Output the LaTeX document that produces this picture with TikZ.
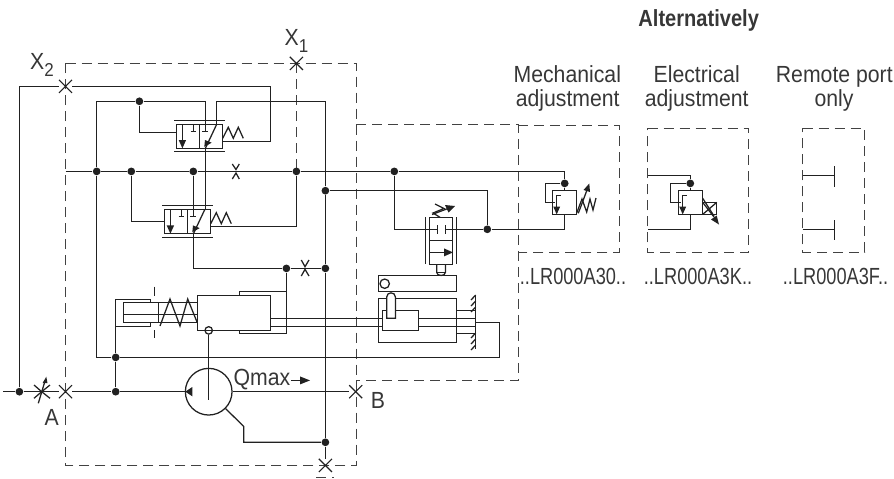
\documentclass[tikz,border=0pt]{standalone}
\usepackage{fontspec}
\setmainfont[FakeStretch=0.91,BoldFeatures={FakeStretch=0.86}]{Liberation Sans}
\newfontfamily\codefont[FakeStretch=0.78]{Liberation Sans}
\usetikzlibrary{shapes.misc}
\definecolor{inkc}{rgb}{0.13,0.13,0.13}
\tikzset{every picture/.style={line width=0.95pt}}
\tikzset{
  junction/.style={circle,fill=inkc,draw=none,inner sep=0pt,minimum size=5.8pt},
  portcross/.style={cross out,draw=inkc,inner sep=0pt,minimum size=9pt,line width=0.8pt},
  boundary/.style={draw=inkc!85,dash pattern=on 7.5pt off 4.5pt,line width=0.85pt},
  tiphead/.style={fill=inkc,draw=none},
  lab/.style={font=\fontsize{17.5}{20}\selectfont,text=inkc!90,inner sep=0pt,anchor=base},
  codelab/.style={lab,font=\fontsize{17.5}{20}\selectfont\codefont}
}
\newcommand{\subdigit}[1]{\raisebox{-5.5pt}{\fontsize{14}{14}\selectfont #1}}

\begin{document}
\begin{tikzpicture}[x=0.75pt,y=0.75pt,yscale=-1,xscale=1,draw=inkc]
\useasboundingbox (0,0) rectangle (894,479);

%Dashed boundaries
\draw [boundary] (65.5,63.4) -- (356.4,63.4) -- (356.4,465.4) -- (65.5,465.4) -- cycle ;
\draw [boundary] (296.4,63.4) -- (296.4,171.4) ;
\draw [boundary] (356.4,124.7) -- (518.3,124.7) -- (518.3,380.4) -- (356.4,380.4) ;
\draw [boundary] (518.3,125.4) -- (619.4,125.4) -- (619.4,252.3) -- (518.3,252.3) ;
\draw [boundary] (647.7,128.3) -- (748.7,128.3) -- (748.7,252.3) -- (647.7,252.3) -- cycle ;
\draw [boundary] (802.7,128.3) -- (864.7,128.3) -- (864.7,252.3) -- (802.7,252.3) -- cycle ;
\draw [boundary] (316.4,477.4) -- (334.4,477.4) ;

%Junctions
\node [junction] (jTopLeft) at (139.4,101.3) {};
\node [junction] (jPilotA) at (96.7,171.4) {};
\node [junction] (jPilotB) at (131.3,171.4) {};
\node [junction] (jPilotC) at (193.3,171.4) {};
\node [junction] (jPilotD) at (296.4,171.4) {};
\node [junction] (jPilotE) at (394.3,171.4) {};
\node [junction] (jCaseA) at (325.4,190.7) {};
\node [junction] (jCaseB) at (325.4,268.4) {};
\node [junction] (jCaseC) at (325.4,442.3) {};
\node [junction] (jStroke) at (286.4,268.4) {};
\node [junction] (jReturn) at (487.3,229.3) {};
\node [junction] (jSupplyA) at (19.4,391.7) {};
\node [junction] (jSupplyB) at (115.7,391.7) {};
\node [junction] (jCyl) at (115.7,357.4) {};
\node [junction] (jMech) at (564.7,183.4) {};
\node [junction] (jElec) at (690.3,183.4) {};

%Ports
\node [portcross] (portXone) at (296.4,63.4) {};
\node [portcross] (portXtwo) at (65.5,86.4) {};
\node [portcross] (portA) at (65.5,391.7) {};
\node [portcross] (portB) at (355.7,391.7) {};
\node [portcross] (portCase) at (325.4,465.4) {};

%Pump
\node [circle,draw=inkc,inner sep=0pt,minimum size=35pt] (pump) at (208.7,391.7) {};
\node [circle,draw=inkc,fill=white,inner sep=0pt,minimum size=5.6pt] (pivot) at (208.7,330.4) {};
\draw (pivot) -- (208.7,400.4) ;
\fill [tiphead] (185.3,391.7) -- (192.3,387) -- (192.3,396.3) -- cycle ;

%Main line and pilot line
\draw (3,391.7) -- (jSupplyA) -- (portA) -- (jSupplyB) -- (pump) ;
\draw (pump) -- (portB) ;
\draw (65.5,171.4) -- (jPilotA) -- (jPilotB) -- (jPilotC) -- (jPilotD) -- (jPilotE) -- (564.7,171.4) -- (jMech) ;
\draw (jSupplyA) -- (19.4,86.4) -- (portXtwo) -- (270.7,86.4) -- (270.7,141.7) -- (222.7,141.7) ;
\draw (jSupplyB) -- (jCyl) ;
\draw (jPilotA) -- (96.7,101.3) -- (jTopLeft) -- (205.4,101.3) -- (205.4,131.4) ;
\draw (jTopLeft) -- (139.4,132.7) -- (176.4,132.7) ;
\draw (jPilotA) -- (96.7,357.4) -- (jCyl) -- (499.4,357.4) -- (499.4,322.4) -- (475.7,322.4) ;
\draw (216.7,124.3) -- (216.7,101.3) -- (325.4,101.3) -- (jCaseA) -- (jCaseB) -- (jCaseC) -- (portCase) ;
\draw (jPilotB) -- (131.3,221.7) -- (164.4,221.7) ;
\draw (jPilotC) -- (193.3,216.4) ;
\draw (jPilotD) -- (296.4,226.7) -- (211.4,226.7) ;
\draw (205.4,148.3) -- (205.4,209.7) ;
\draw (193.3,233.4) -- (193.3,268.4) -- (jStroke) -- (jCaseB) ;
\draw (jStroke) -- (286.4,333.7) -- (239.3,333.7) -- (239.3,330.4) ;
\draw (286.4,291.3) -- (239.3,291.3) -- (239.3,295.4) ;
\draw (jCaseA) -- (487.3,190.7) -- (jReturn) ;
\draw (jPilotE) -- (394.3,229.3) -- (437.7,229.3) ;
\draw (445.4,229.3) -- (jReturn) -- (564.7,229.3) -- (564.7,214.4) ;
\draw (pump.315) -- (243.7,426.4) -- (243.7,442.3) -- (jCaseC) ;

%Top pilot valve
\draw (176.4,124.3) rectangle (222.7,148.3) ;
\draw (199.4,124.3) -- (199.4,148.3) ;
\draw (174.4,120.3) -- (224.7,120.3) ;
\draw (174.4,151.7) -- (224.7,151.7) ;
\draw (182.4,124.3) -- (182.4,141.4) ;
\fill [tiphead] (182.4,148.3) -- (178.7,140) -- (186.1,140) -- cycle ;
\draw (193.3,124.3) -- (193.3,131.4) ;
\draw (190.7,131.4) -- (196.4,131.4) ;
\draw (202.3,131.4) -- (207.7,131.4) ;
\draw (216.7,124.3) -- (205.4,148.3) ;
\fill [tiphead] (204.3,146.9) -- (205,140) -- (211.7,142.7) -- cycle ;
\draw (222.7,138.3) -- (228.3,127.3) -- (233.3,138.3) -- (238.3,127.3) -- (243.3,138.3) ;

%Lower pilot valve
\draw (164.4,209.7) rectangle (210.7,233.7) ;
\draw (187.4,209.7) -- (187.4,233.7) ;
\draw (162.4,205.7) -- (212.7,205.7) ;
\draw (162.4,237.3) -- (212.7,237.3) ;
\draw (170.4,209.7) -- (170.4,226.4) ;
\fill [tiphead] (170.4,233.7) -- (166.7,225.4) -- (174.1,225.4) -- cycle ;
\draw (181.3,209.7) -- (181.3,216.4) ;
\draw (178.7,216.4) -- (184.4,216.4) ;
\draw (190.3,216.4) -- (195.7,216.4) ;
\draw (204.7,209.7) -- (193.4,233.7) ;
\fill [tiphead] (192.3,232.3) -- (193,225.4) -- (199.7,228.1) -- cycle ;
\draw (210.7,223.7) -- (216.3,212.7) -- (221.3,223.7) -- (226.3,212.7) -- (231.3,223.7) ;

%Orifices
\draw (232.3,164) -- (236,169.5) -- (239.3,164) ;
\draw (232.3,179) -- (236,173) -- (239.3,179) ;
\draw (301.3,260) -- (305,266.7) -- (309,260) ;
\draw (301.3,276) -- (305,269.3) -- (309,276) ;
\draw (34,385) -- (41.7,391.7) -- (50,385) ;
\draw (34,398.3) -- (41.7,391.7) -- (50,398.3) ;
\draw (38.3,403.3) -- (45,381) ;
\fill [tiphead] (46.3,376.7) -- (42.5,383.2) -- (47.5,383.2) -- cycle ;

%Stroking cylinder
\draw (jCyl) -- (115.7,299.4) -- (150.7,299.4) -- (150.7,302.7) ;
\draw (115.7,326.4) -- (150.7,326.4) -- (150.7,322.7) ;
\draw (123.3,302.7) rectangle (197.3,322.7) ;
\draw (123.3,314.3) -- (197.3,314.3) ;
\draw (158.3,302.7) -- (158.3,322.7) ;
\draw (154.3,286.7) -- (154.3,295.7) ;
\draw (154.3,330.4) -- (154.3,338.4) ;
\draw (160,326) -- (170,299) -- (180,326) -- (187.7,299) -- (197.3,322.7) ;
\draw (197.3,295.4) rectangle (270.7,330.4) ;
\draw (270.7,318.3) -- (382.7,318.3) ;
\draw (270.7,326.4) -- (382.7,326.4) ;

%Feedback lever and sleeve
\draw (378.7,275.7) rectangle (456.7,291.3) ;
\draw (384.7,283.7) circle [radius=4.7] ;
\draw (378.7,298.7) rectangle (456.7,342.4) ;
\draw (382.7,310.7) rectangle (418.4,330.4) ;
\draw [fill=white] (386.7,318.3) -- (386.7,297) .. controls (386.7,291.5) and (395.4,291.5) .. (395.4,297) -- (395.4,318.3) -- cycle ;
\draw (418.4,318.3) -- (475.7,318.3) ;
\draw (418.4,326.4) -- (475.7,326.4) ;
\draw (456.7,310.7) -- (475.7,310.7) ;
\draw (456.7,333.3) -- (475.7,333.3) ;
\draw (475.7,295) -- (475.7,349) ;
\draw (475.7,295) -- (471,300) ;
\draw (475.7,301) -- (471,306) ;
\draw (475.7,307) -- (471,312) ;
\draw (475.7,333) -- (471,338) ;
\draw (475.7,339) -- (471,344) ;
\draw (475.7,345) -- (471,350) ;

%Pressure cut-off valve
\draw (429.3,217.3) rectangle (452.3,264.4) ;
\draw (429.3,240.7) -- (452.3,240.7) ;
\draw (425.3,217.3) -- (425.3,264.4) ;
\draw (456.7,217.3) -- (456.7,264.4) ;
\draw (437.7,225) -- (437.7,234) ;
\draw (445.4,225) -- (445.4,234) ;
\draw (429.3,252.4) -- (445,252.4) ;
\fill [tiphead] (453,252.4) -- (444,248.4) -- (444,256.4) -- cycle ;
\draw (436.7,264.4) -- (436.7,272.4) .. controls (436.7,276.5) and (445.4,276.5) .. (445.4,272.4) -- (445.4,264.4) ;
\draw (436.7,272.4) -- (445.4,272.4) ;
\draw (440,217.3) -- (433,213) -- (444,208.5) -- (435,204) ;
\draw (432,214.5) -- (448,208.5) ;
\fill [tiphead] (455,206) -- (445,205) -- (448.5,212.5) -- cycle ;

%Mechanical adjustment
\draw (552.7,190.4) rectangle (576.7,214.4) ;
\draw (jMech) -- (545.3,183.4) -- (545.3,202.4) -- (555,202.4) ;
\draw (jMech) -- (564.7,190.4) ;
\draw (560.7,195.4) -- (556.7,195.4) -- (556.7,208) ;
\fill [tiphead] (556.7,214.4) -- (553.2,206.5) -- (560.2,206.5) -- cycle ;
\draw (576.7,213) -- (582,199) -- (586.7,212) -- (590,199) -- (593,210) -- (596,198) ;
\draw (578.3,213.3) -- (587,190) ;
\fill [tiphead] (589.3,183.5) -- (583.5,190) -- (590,192) -- cycle ;

%Electrical adjustment
\draw (678.7,190.4) rectangle (702.7,214.4) ;
\draw (647.7,175.4) -- (690.3,175.4) -- (jElec) -- (670.7,183.4) -- (670.7,202.4) -- (681,202.4) ;
\draw (jElec) -- (690.3,190.4) ;
\draw (686.7,195.4) -- (682.7,195.4) -- (682.7,208) ;
\fill [tiphead] (682.7,214.4) -- (679.2,206.5) -- (686.2,206.5) -- cycle ;
\draw (690.3,214.4) -- (690.3,229.3) -- (647.7,229.3) ;
\draw (702.7,202.4) rectangle (716.7,214.4) ;
\draw (702.7,214.4) -- (716.7,202.4) ;
\draw (702.7,202.4) -- (714,217) ;
\draw (702.7,198.3) -- (714,216) ;
\fill [tiphead] (719,224.5) -- (711,219.5) -- (716.7,215.5) -- cycle ;

%Remote port
\draw (802.7,175.4) -- (834.3,175.4) ;
\draw (834.3,166.3) -- (834.3,187.4) ;
\draw (802.7,229.3) -- (834.3,229.3) ;
\draw (834.3,220.4) -- (834.3,240.4) ;

% Text Node
\node [lab,font=\fontsize{17.5}{20}\selectfont\bfseries] (txtAlt) at (698.7,26.7) {Alternatively};
\node [lab] (txtMechA) at (567.3,82.7) {Mechanical};
\node [lab] (txtMechB) at (567.7,106) {adjustment};
\node [lab] (txtElecA) at (696.7,82.7) {Electrical};
\node [lab] (txtElecB) at (696.7,106) {adjustment};
\node [lab] (txtRemA) at (834.3,82.7) {Remote port};
\node [lab] (txtRemB) at (834,106) {only};
\node [codelab] (txtCodeA) at (573,284) {..LR000A30..};
\node [codelab] (txtCodeB) at (698,284) {..LR000A3K..};
\node [codelab] (txtCodeC) at (835.5,284) {..LR000A3F..};
\node [lab] (txtXone) at (296.5,45) {X\subdigit{1}};
\node [lab] (txtXtwo) at (42,69) {X\subdigit{2}};
\node [lab,anchor=base west] (txtQ) at (233,385) {Qmax};
\node [lab] (txtA) at (51.7,425) {A};
\node [lab] (txtB) at (378,408) {B};
\draw (txtQ.base east |- 0,380.4) -- (302,380.4) ;
\fill [tiphead] (310,380.4) -- (300,376.4) -- (300,384.4) -- cycle ;

\end{tikzpicture}
\end{document}
